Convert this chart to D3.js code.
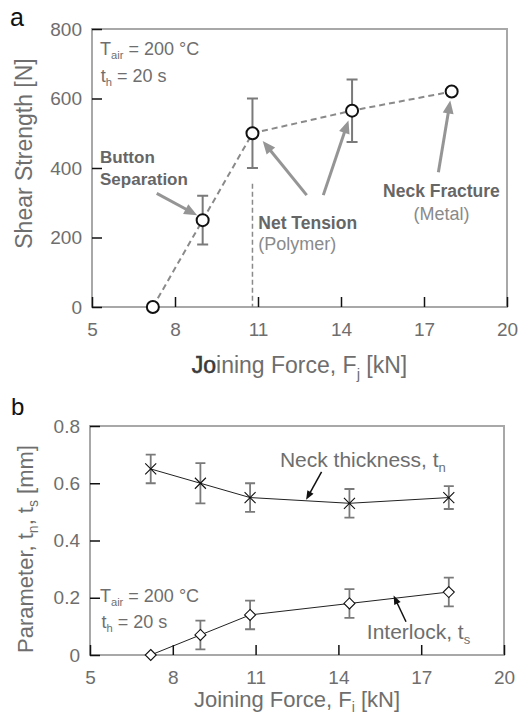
<!DOCTYPE html>
<html><head><meta charset="utf-8">
<script src="https://cdn.jsdelivr.net/npm/d3@7"></script>
<style>
html,body{margin:0;padding:0;background:#fff;}
svg{display:block;font-family:"Liberation Sans",Arial,Helvetica,sans-serif;}
</style></head>
<body>
<svg id="chart" width="520" height="719"></svg>
<script>
// ---------- data ----------
const joiningForce = [7.2, 9.0, 10.8, 14.4, 18.0];          // kN
const shearStrength = [0, 250, 500, 565, 620];               // N
const shearErr = [0, 70, 100, 90, 0];                        // N
const neckThickness = [0.65, 0.60, 0.55, 0.53, 0.55];        // mm
const neckErr = [0.05, 0.07, 0.05, 0.05, 0.04];
const interlock = [0, 0.07, 0.14, 0.18, 0.22];               // mm
const interlockErr = [0, 0.05, 0.05, 0.05, 0.05];
const xTicks = [5, 8, 11, 14, 17, 20];
const yTicksA = [0, 200, 400, 600, 800];
const yTicksB = [0, 0.2, 0.4, 0.6, 0.8];
const netTensionForce = 10.8;  // vertical dashed marker (kN)
const netTensionTop = 355;     // N

const svg = d3.select("#chart");
const GRAY_TXT = "#6e6e6e";
const FRAME = "#a8a8a8";

// ---------- scales ----------
const xA = d3.scaleLinear().domain([5, 20]).range([92, 507]);
const yA = d3.scaleLinear().domain([0, 800]).range([307, 29]);
const xB = d3.scaleLinear().domain([5, 20]).range([90, 504]);
const yB = d3.scaleLinear().domain([0, 0.8]).range([655, 426]);

function frame(x, y) {
  svg.append("rect")
    .attr("x", x.range()[0]).attr("y", y.range()[1])
    .attr("width", x.range()[1] - x.range()[0])
    .attr("height", y.range()[0] - y.range()[1])
    .attr("fill", "none").attr("stroke", FRAME).attr("stroke-width", 2);
}
function axes(x, y, yvals, yfmt) {
  const gy = svg.append("g").attr("transform", `translate(${x.range()[0]},0)`)
    .call(d3.axisLeft(y).tickValues(yvals).tickSize(-10).tickPadding(10).tickFormat(yfmt));
  const gx = svg.append("g").attr("transform", `translate(0,${y.range()[0]})`)
    .call(d3.axisBottom(x).tickValues(xTicks).tickSize(-10).tickPadding(12));
  [gy, gx].forEach(g => {
    g.select(".domain").remove();
    g.selectAll(".tick line").attr("stroke", "#111").attr("stroke-width", 1.5);
    g.selectAll(".tick text").attr("fill", GRAY_TXT).attr("font-size", 19)
      .attr("font-family", "Liberation Sans, Arial, sans-serif");
  });
  gx.selectAll(".tick text").attr("dy", "0.71em").attr("y", 16);
}

// text helper: parts are strings or {sub, dy}; text after a subscript restores baseline
function txt(x, y, xv, yv, parts, opts) {
  const t = svg.append("text").attr("x", x(xv)).attr("y", y(yv))
    .attr("font-size", opts.size).attr("fill", opts.fill || GRAY_TXT)
    .attr("font-weight", opts.weight || "normal")
    .attr("text-anchor", opts.anchor || "start");
  let shift = 0;
  parts.forEach(p => {
    if (typeof p === "string") {
      const s = t.append("tspan").text(p);
      if (shift) { s.attr("dy", -shift); shift = 0; }
    } else {
      t.append("tspan").attr("font-size", opts.size * 0.62).attr("dy", p.dy).text(p.sub);
      shift = p.dy;
    }
  });
  return t;
}

// arrows helper
function arrow(x, y, from, to, color, width, headLen, headW) {
  const x1 = x(from[0]), y1 = y(from[1]), x2 = x(to[0]), y2 = y(to[1]);
  const ang = Math.atan2(y2 - y1, x2 - x1);
  const bx = x2 - headLen * Math.cos(ang), by = y2 - headLen * Math.sin(ang);
  svg.append("line").attr("x1", x1).attr("y1", y1).attr("x2", bx + Math.cos(ang)).attr("y2", by + Math.sin(ang))
    .attr("stroke", color).attr("stroke-width", width);
  const px = -Math.sin(ang) * headW / 2, py = Math.cos(ang) * headW / 2;
  svg.append("path").attr("d", `M${x2},${y2}L${bx+px},${by+py}L${bx-px},${by-py}Z`).attr("fill", color);
}

// =============== Panel a ===============
frame(xA, yA);
axes(xA, yA, yTicksA, d3.format("d"));

svg.append("line")
  .attr("x1", xA(netTensionForce)).attr("x2", xA(netTensionForce))
  .attr("y1", yA(netTensionTop)).attr("y2", yA(0))
  .attr("stroke", "#8a8a8a").attr("stroke-width", 1.5).attr("stroke-dasharray", "5,3");

const gA = svg.append("g");
joiningForce.forEach((f, i) => {
  if (!shearErr[i]) return;
  const cx = xA(f), t = yA(shearStrength[i] + shearErr[i]), b = yA(shearStrength[i] - shearErr[i]);
  gA.append("path").attr("d", `M${cx},${t}V${b}M${cx-5.5},${t}H${cx+5.5}M${cx-5.5},${b}H${cx+5.5}`)
    .attr("stroke", "#7a7a7a").attr("stroke-width", 2).attr("fill", "none");
});
gA.append("path")
  .datum(joiningForce.map((f, i) => [f, shearStrength[i]]))
  .attr("d", d3.line().x(d => xA(d[0])).y(d => yA(d[1])))
  .attr("fill", "none").attr("stroke", "#8a8a8a").attr("stroke-width", 2).attr("stroke-dasharray", "6,4");
gA.selectAll("circle").data(joiningForce).join("circle")
  .attr("cx", d => xA(d)).attr("cy", (d, i) => yA(shearStrength[i])).attr("r", 6)
  .attr("fill", "#fff").attr("stroke", "#111").attr("stroke-width", 2);

const ARROW_A = "#959595";
arrow(xA, yA, [7.34, 327], [8.8, 264], ARROW_A, 3, 13, 11);
arrow(xA, yA, [12.76, 322], [11.17, 478], ARROW_A, 3, 13, 11);
arrow(xA, yA, [13.36, 322], [14.27, 537], ARROW_A, 3, 13, 11);
arrow(xA, yA, [17.52, 388], [17.95, 594], ARROW_A, 3, 13, 11);

const LBL = "#666";
txt(xA, yA, 5.29, 725, ["T", {sub: "air", dy: 4}, " = 200 °C"], {size: 18});
txt(xA, yA, 5.32, 648, ["t", {sub: "h", dy: 4}, " = 20 s"], {size: 18});
txt(xA, yA, 5.29, 414, ["Button"], {size: 17, weight: "bold", fill: LBL});
txt(xA, yA, 5.29, 351, ["Separation"], {size: 17, weight: "bold", fill: LBL});
txt(xA, yA, 11.01, 224, ["Net Tension"], {size: 17.5, weight: "bold", fill: LBL});
txt(xA, yA, 11.01, 164, ["(Polymer)"], {size: 18, fill: "#8a8a8a"});
txt(xA, yA, 17.63, 317, ["Neck Fracture"], {size: 17.5, weight: "bold", fill: LBL, anchor: "middle"});
txt(xA, yA, 17.63, 250, ["(Metal)"], {size: 18, fill: "#8a8a8a", anchor: "middle"});

svg.append("text").attr("transform", "translate(32,153.5) rotate(-90)").attr("text-anchor", "middle")
  .attr("font-size", 23).attr("fill", GRAY_TXT).text("Shear Strength [N]");
{
  const t = svg.append("text").attr("x", 299.5).attr("y", 373).attr("text-anchor", "middle")
    .attr("font-size", 23).attr("fill", GRAY_TXT);
  t.append("tspan").attr("fill", "#3a3a3a").attr("stroke", "#3a3a3a").attr("stroke-width", 0.6).text("Jo");
  t.append("tspan").text("ining Force, F");
  t.append("tspan").attr("font-size", 15).attr("dy", 6).text("j");
  t.append("tspan").attr("dy", -6).text(" [kN]");
}
svg.append("text").attr("x", 10).attr("y", 26).attr("font-size", 25).attr("fill", "#111").text("a");

// =============== Panel b ===============
frame(xB, yB);
axes(xB, yB, yTicksB, d => d === 0 ? "0" : d3.format(".1f")(d));

const gB = svg.append("g");
function errBars(vals, errs) {
  joiningForce.forEach((f, i) => {
    if (!errs[i]) return;
    const cx = xB(f), t = yB(vals[i] + errs[i]), b = yB(vals[i] - errs[i]);
    gB.append("path").attr("d", `M${cx},${t}V${b}M${cx-5},${t}H${cx+5}M${cx-5},${b}H${cx+5}`)
      .attr("stroke", "#7a7a7a").attr("stroke-width", 1.8).attr("fill", "none");
  });
}
errBars(neckThickness, neckErr);
errBars(interlock, interlockErr);
const lineB = d3.line().x(d => xB(d[0])).y(d => yB(d[1]));
gB.append("path").datum(joiningForce.map((f, i) => [f, neckThickness[i]])).attr("d", lineB)
  .attr("fill", "none").attr("stroke", "#222").attr("stroke-width", 1);
gB.append("path").datum(joiningForce.map((f, i) => [f, interlock[i]])).attr("d", lineB)
  .attr("fill", "none").attr("stroke", "#222").attr("stroke-width", 1);
joiningForce.forEach((f, i) => {
  const cx = xB(f), cy = yB(neckThickness[i]), s = 5.5;
  gB.append("path").attr("d", `M${cx-s},${cy-s}L${cx+s},${cy+s}M${cx-s},${cy+s}L${cx+s},${cy-s}`)
    .attr("stroke", "#111").attr("stroke-width", 1.1);
});
joiningForce.forEach((f, i) => {
  const cx = xB(f), cy = yB(interlock[i]), s = 5.5;
  gB.append("path").attr("d", `M${cx},${cy-s}L${cx+s},${cy}L${cx},${cy+s}L${cx-s},${cy}Z`)
    .attr("fill", "#fff").attr("stroke", "#111").attr("stroke-width", 1.1);
});
arrow(xB, yB, [13.39, 0.640], [12.83, 0.542], "#111", 1.5, 9, 7);
arrow(xB, yB, [16.45, 0.116], [16.0, 0.208], "#111", 1.5, 9, 7);

txt(xB, yB, 11.88, 0.658, ["Neck thickness, t", {sub: "n", dy: 5}], {size: 21});
txt(xB, yB, 15.03, 0.056, ["Interlock, t", {sub: "s", dy: 5}], {size: 21});
txt(xB, yB, 5.36, 0.186, ["T", {sub: "air", dy: 4}, " = 200 °C"], {size: 18});
txt(xB, yB, 5.42, 0.093, ["t", {sub: "h", dy: 4}, " = 20 s"], {size: 18});

{
  const t = svg.append("text").attr("transform", "translate(33,549) rotate(-90)").attr("text-anchor", "middle")
    .attr("font-size", 22).attr("fill", GRAY_TXT);
  t.append("tspan").text("Parameter, t");
  t.append("tspan").attr("font-size", 14).attr("dy", 5).text("n");
  t.append("tspan").attr("dy", -5).text(", t");
  t.append("tspan").attr("font-size", 14).attr("dy", 5).text("s");
  t.append("tspan").attr("dy", -5).text(" [mm]");
}
{
  const t = svg.append("text").attr("x", 297).attr("y", 707).attr("text-anchor", "middle")
    .attr("font-size", 22).attr("fill", GRAY_TXT);
  t.append("tspan").text("Joining Force, F");
  t.append("tspan").attr("font-size", 14).attr("dy", 5).text("i");
  t.append("tspan").attr("dy", -5).text(" [kN]");
}
svg.append("text").attr("x", 11).attr("y", 415).attr("font-size", 24).attr("fill", "#111").text("b");
</script>
</body></html>
